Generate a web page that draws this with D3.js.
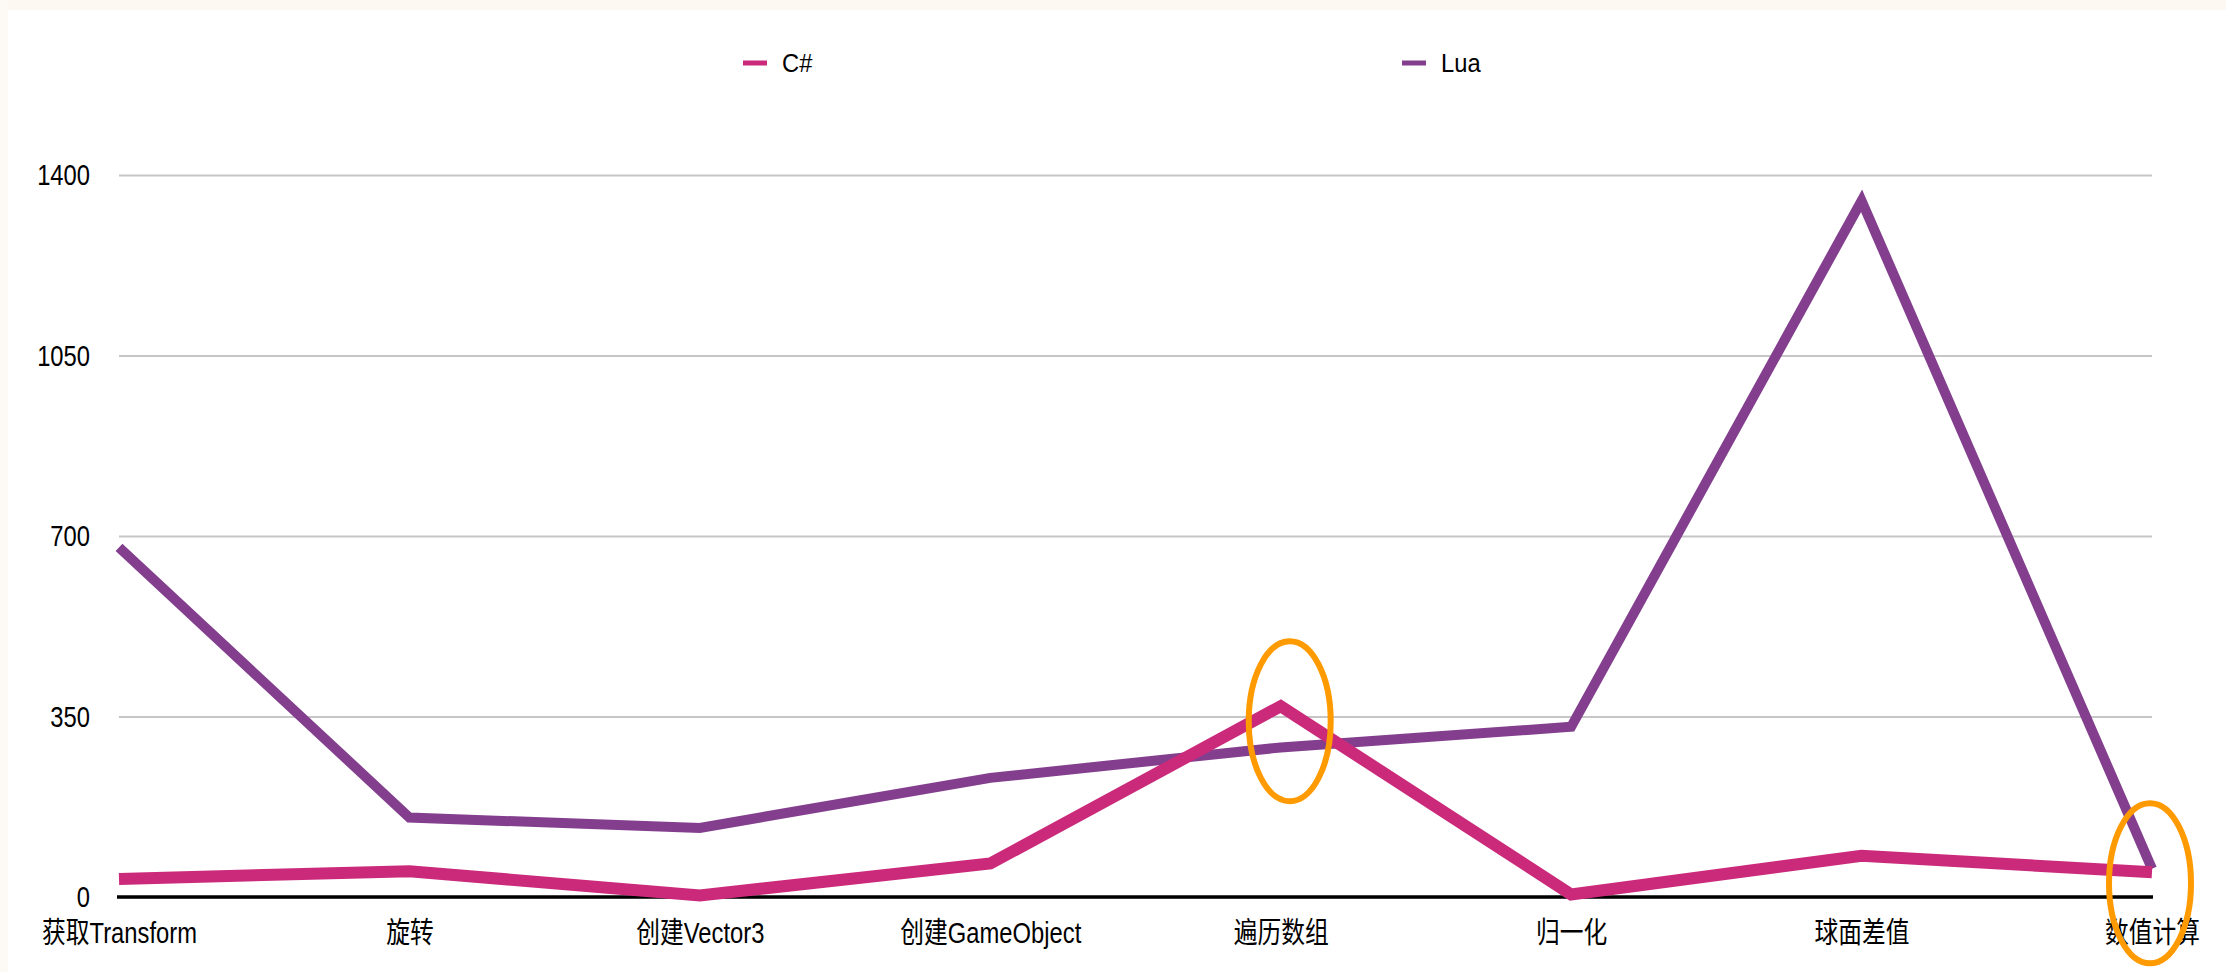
<!DOCTYPE html>
<html>
<head>
<meta charset="utf-8">
<script src="https://cdn.jsdelivr.net/npm/d3@7"></script>
<style>
  html, body { margin: 0; padding: 0; background: #ffffff; }
  svg { display: block; }
  text { font-family: "Liberation Sans", Arial, "Noto Sans CJK SC", sans-serif; fill: #000; }
</style>
</head>
<body>
<svg id="chart" width="2226" height="972"></svg>
<script>
const categories = ["获取Transform", "旋转", "创建Vector3", "创建GameObject", "遍历数组", "归一化", "球面差值", "数值计算"];
const seriesNames = ["C#", "Lua"];
const csharpValues = [35, 50, 3, 65, 370, 5, 80, 48];
const luaValues = [678, 154, 134, 231, 290, 330, 1350, 55];
const yTicks = [0, 350, 700, 1050, 1400];
const highlightCategories = ["遍历数组", "数值计算"];

const colors = { "C#": "#cb2a7b", "Lua": "#833f8e" };
const widths = { "C#": 12, "Lua": 10 };

const W = 2226, H = 972;
const svg = d3.select("#chart");

// faint tinted edges of the original screenshot
svg.append("rect").attr("x", 0).attr("y", 0).attr("width", W).attr("height", 10).attr("fill", "#fdf8f1");
svg.append("rect").attr("x", 0).attr("y", 0).attr("width", 8).attr("height", H).attr("fill", "#fdfaf6");

const x = d3.scalePoint().domain(categories).range([119, 2152]).padding(0);
const y = d3.scaleLinear().domain([0, 1400]).range([897, 175]);

const sx = 0.82;

// y axis with gridlines
const yAxis = d3.axisLeft(y).tickValues(yTicks).tickSize(-(2152 - 119)).tickFormat(d3.format("d"));
const gy = svg.append("g").attr("transform", "translate(119,0)").call(yAxis);
gy.select(".domain").remove();
gy.selectAll(".tick line").attr("stroke", "#c6c6c6").attr("stroke-width", 2);
gy.selectAll(".tick text")
  .attr("x", 0).attr("dy", null)
  .attr("transform", `translate(-29,0) scale(${sx},1)`)
  .attr("dominant-baseline", "central")
  .style("font-size", "29px")
  .attr("fill", "#000");

// baseline at zero
svg.append("line")
  .attr("x1", x(categories[0]) - 2).attr("x2", x(categories[categories.length - 1]) + 1)
  .attr("y1", y(0)).attr("y2", y(0))
  .attr("stroke", "#000").attr("stroke-width", 3.5);

// x axis labels
const xAxis = d3.axisBottom(x).tickSize(0);
const gx = svg.append("g").attr("transform", `translate(0,${y(0)})`).call(xAxis);
gx.select(".domain").remove();
gx.selectAll(".tick text")
  .attr("y", 0).attr("dy", null)
  .attr("transform", `translate(0,46) scale(${sx},1)`)
  .style("font-size", "29px")
  .style("font-family", "'Liberation Sans', Arial, 'Noto Sans CJK SC', sans-serif")
  .attr("fill", "#000");

// lines
const line = d3.line().x((d, i) => x(categories[i])).y(d => y(d)).curve(d3.curveLinear);
const series = [
  { name: "Lua", values: luaValues },
  { name: "C#", values: csharpValues }
];
svg.selectAll("path.series").data(series).enter().append("path")
  .attr("class", "series")
  .attr("d", d => line(d.values))
  .attr("fill", "none")
  .attr("stroke", d => colors[d.name])
  .attr("stroke-width", d => widths[d.name])
  .attr("stroke-linejoin", "miter")
  .attr("stroke-miterlimit", 10)
  .attr("stroke-linecap", "butt");

// orange highlight ellipses
const ellipses = [
  { cat: highlightCategories[0], value: csharpValues[categories.indexOf(highlightCategories[0])], dx: 9, dy: 15 },
  { cat: highlightCategories[1], value: csharpValues[categories.indexOf(highlightCategories[1])], dx: -2, dy: 11 }
];
svg.selectAll("ellipse.hl").data(ellipses).enter().append("ellipse")
  .attr("class", "hl")
  .attr("cx", d => x(d.cat) + d.dx)
  .attr("cy", d => y(d.value) + d.dy)
  .attr("rx", 41)
  .attr("ry", 80)
  .attr("fill", "none")
  .attr("stroke", "#ff9a00")
  .attr("stroke-width", 6);

// legend
const legendX = { "C#": 743, "Lua": 1402 };
const lg = svg.selectAll("g.legend").data(seriesNames).enter().append("g")
  .attr("class", "legend")
  .attr("transform", d => `translate(${legendX[d]},63)`);
lg.append("line")
  .attr("x1", 0).attr("x2", 24).attr("y1", 0).attr("y2", 0)
  .attr("stroke", d => colors[d]).attr("stroke-width", 5);
lg.append("text")
  .attr("transform", `translate(39,0) scale(0.95,1)`)
  .attr("dominant-baseline", "central")
  .style("font-size", "25px")
  .text(d => d);
</script>
</body>
</html>
